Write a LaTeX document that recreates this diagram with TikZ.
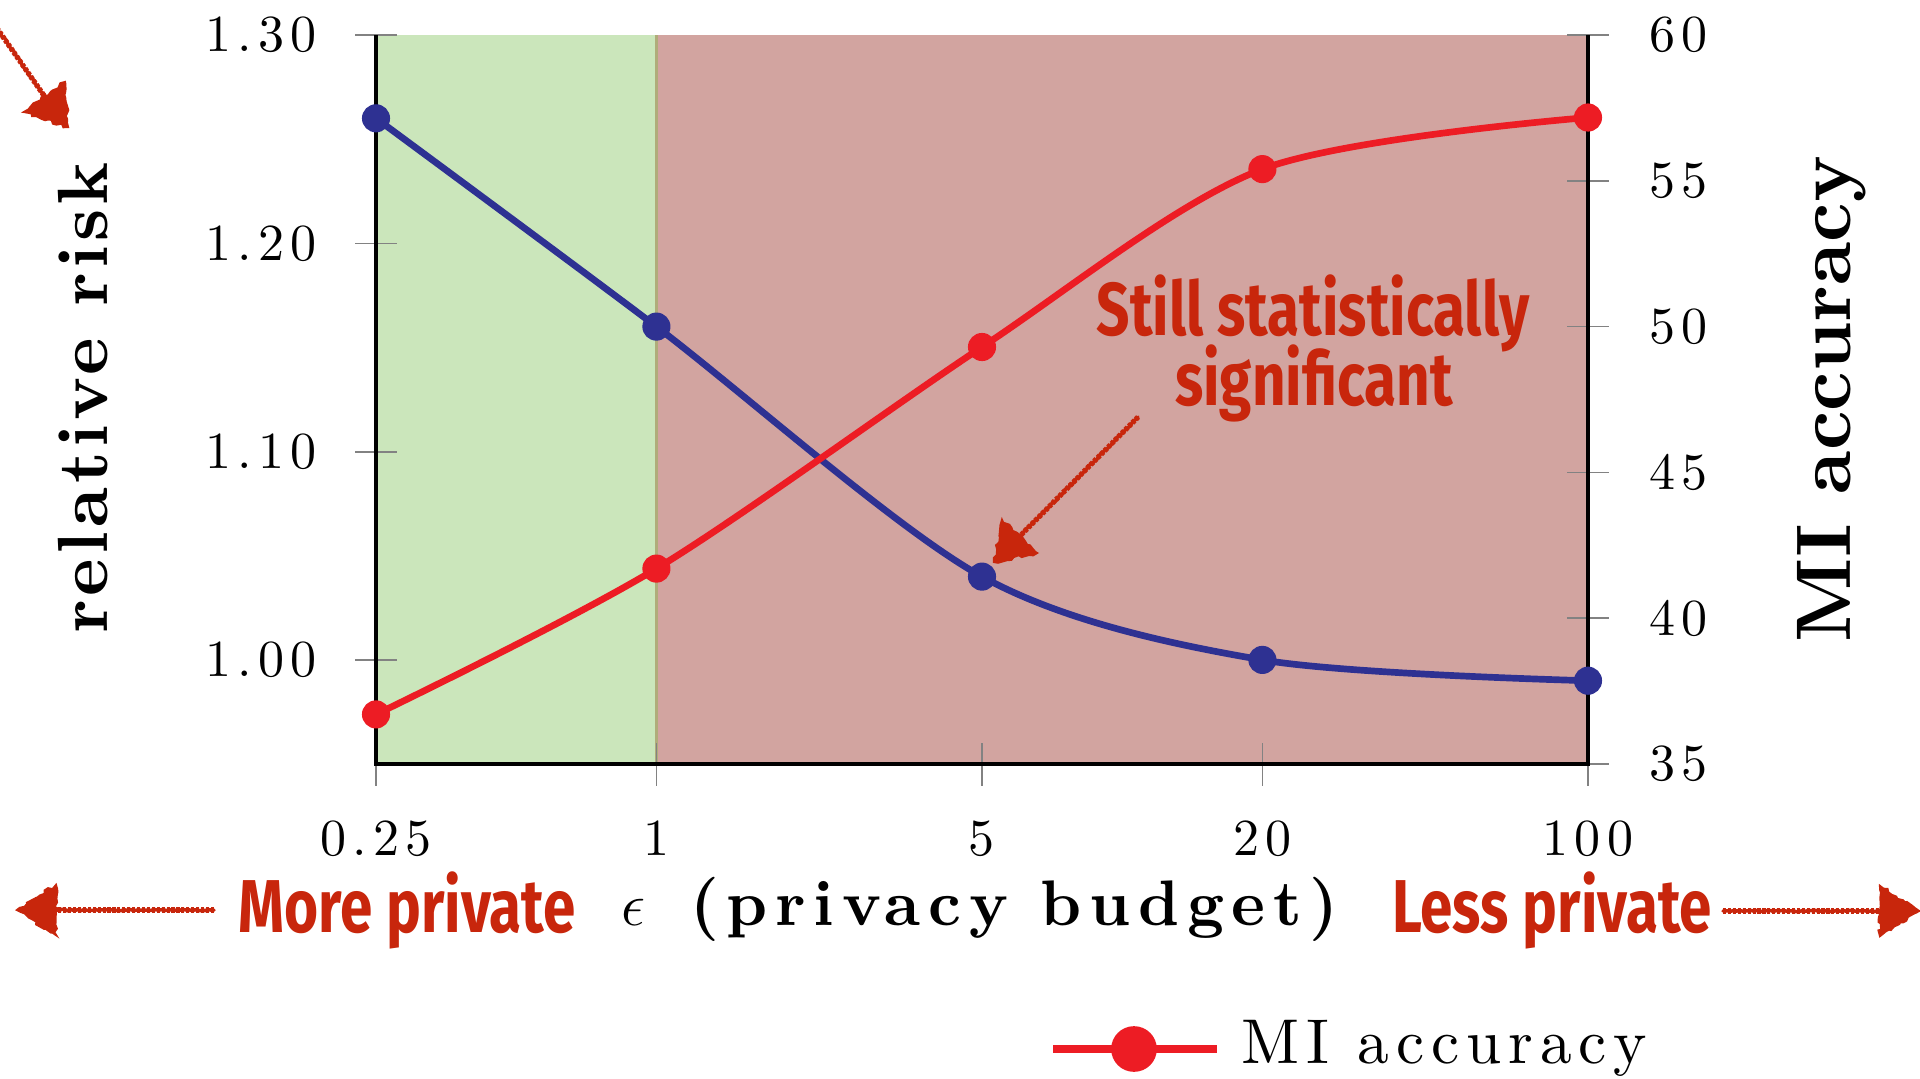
\documentclass[tikz,border=0pt]{standalone}
\usepackage{fontspec}
\setmainfont{lmroman10-regular}[Extension=.otf,
  BoldFont=lmroman10-bold,ItalicFont=lmroman10-italic,BoldItalicFont=lmroman10-bolditalic]
\usetikzlibrary{decorations.pathmorphing}
\newfontfamily\handfont[FakeStretch=0.78]{Fira Sans}

\definecolor{riskblue}{RGB}{46,49,146}
\definecolor{mired}{RGB}{237,28,36}
\definecolor{privgreen}{RGB}{203,230,187}
\definecolor{leakpink}{RGB}{210,164,160}
\definecolor{seamolive}{RGB}{176,172,122}
\definecolor{inkred}{RGB}{200,38,12}
\definecolor{tickgray}{RGB}{130,130,130}

\begin{document}
\begin{tikzpicture}[x=0.01cm,y=-0.01cm,
  tickmark/.style={draw=tickgray,line width=0.45pt},
  axisline/.style={draw=black,line width=0.9pt,line join=miter},
  ticklabel/.style={inner sep=0pt,font=\fontsize{14.8}{17}\selectfont\addfontfeatures{LetterSpace=12}},
  riskcurve/.style={draw=riskblue,line width=1.9pt},
  micurve/.style={draw=mired,line width=1.9pt},
  dotmark/.style={circle,inner sep=0pt,minimum size=8pt,draw=none},
  handtext/.style={inner sep=0pt,text=inkred,font=\handfont\fontsize{21.3}{25}\selectfont\bfseries},
  sketchline/.style={draw=inkred,line width=1.0pt,line cap=round,decorate,
    decoration={random steps,segment length=0.8pt,amplitude=0.18pt}},
  sketchgrain/.style={draw=inkred,line width=1.5pt,dash pattern=on 0.9pt off 0.5pt},
  sketchhead/.style={fill=inkred,draw=inkred,line width=0.6pt,decorate,
    decoration={random steps,segment length=1pt,amplitude=0.5pt}}
]
\pgfmathsetseed{7}
\useasboundingbox (0,0) rectangle (1920,1078);

% shaded privacy regions
\fill[privgreen] (376,35) rectangle (656.4,764);
\fill[leakpink] (656.4,35) rectangle (1588,764);
\draw[seamolive,line width=0.7pt] (656.4,35) -- (656.4,764);

% ticks (centred on the axes)
\foreach \yy in {660,451.7,243.4,35}
  \draw[tickmark] (355,\yy) -- (397,\yy);
\foreach \yy in {764,618.2,472.4,326.6,180.8,35}
  \draw[tickmark] (1567,\yy) -- (1609,\yy);
\foreach \xx in {376,656.4,982,1262.4,1588}
  \draw[tickmark] (\xx,743) -- (\xx,786);

% axis lines (no top border)
\draw[axisline] (376,35) -- (376,764) -- (1588,764) -- (1588,35);

% tick labels
\node[ticklabel,anchor=east] (l130) at (317,35) {1.30};
\node[ticklabel,anchor=east] (l120) at (317,243.4) {1.20};
\node[ticklabel,anchor=east] (l110) at (317,451.7) {1.10};
\node[ticklabel,anchor=east] (l100) at (317,660) {1.00};
\node[ticklabel,anchor=west] (r60) at (1649,35) {60};
\node[ticklabel,anchor=west] (r55) at (1649,180.8) {55};
\node[ticklabel,anchor=west] (r50) at (1649,326.6) {50};
\node[ticklabel,anchor=west] (r45) at (1649,472.4) {45};
\node[ticklabel,anchor=west] (r40) at (1649,618.2) {40};
\node[ticklabel,anchor=west] (r35) at (1649,764) {35};
\node[ticklabel,anchor=base] (x1) at (376,855) {0.25};
\node[ticklabel,anchor=base] (x2) at (656.4,855) {1};
\node[ticklabel,anchor=base] (x3) at (982,855) {5};
\node[ticklabel,anchor=base] (x4) at (1262.4,855) {20};
\node[ticklabel,anchor=base] (x5) at (1588,855) {100};

% axis titles
\node[inner sep=0pt,rotate=90,anchor=base,font=\fontsize{20.2}{24}\selectfont\bfseries\addfontfeatures{LetterSpace=6}] (ylab) at (107,398) {relative risk};
\node[inner sep=0pt,rotate=90,anchor=base,font=\fontsize{22}{26}\selectfont\bfseries] (y2lab) at (1850,399) {MI accuracy};
\node[inner sep=0pt,anchor=base,font=\fontsize{18.3}{21}\selectfont] (xlab) at (980,925)
  {$\epsilon$\hspace{0.7em}{\bfseries\addfontfeatures{LetterSpace=12}(privacy budget)}};

% data points
\coordinate (b1) at (376,118.3);
\coordinate (b2) at (656.4,326.6);
\coordinate (b3) at (982,576.6);
\coordinate (b4) at (1262.4,659.9);
\coordinate (b5) at (1588,680.7);
\coordinate (m1) at (376,714.4);
\coordinate (m2) at (656.4,568.6);
\coordinate (m3) at (982,347.0);
\coordinate (m4) at (1262.4,169.1);
\coordinate (m5) at (1588,117.5);

\draw[riskcurve] plot[smooth] coordinates {(b1) (b2) (b3) (b4) (b5)};
\draw[micurve] plot[smooth] coordinates {(m1) (m2) (m3) (m4) (m5)};
\foreach \p in {b1,b2,b3,b4,b5}
  \node[dotmark,fill=riskblue] (dot-\p) at (\p) {};
\foreach \p in {m1,m2,m3,m4,m5}
  \node[dotmark,fill=mired] (dot-\p) at (\p) {};

% hand-written annotations
\node[handtext,anchor=base] (still1) at (1313,335) {Still statistically};
\node[handtext,anchor=base] (still2) at (1314,405) {significant};
\node[handtext,anchor=base] (more) at (407,932) {More private};
\node[handtext,anchor=base] (less) at (1552,932) {Less private};

% sketchy arrows: grainy shaft plus rough triangular head
\coordinate (sigA) at (1138,417);
\coordinate (sigB) at (1019,537);
\coordinate (sigT) at (994,562);
\draw[sketchline] (sigA) -- (sigB);
\draw[sketchgrain] (sigA) -- (sigB);
\filldraw[sketchhead] (sigT) -- (1002,520) -- (1037,553) -- cycle;

\coordinate (lfA) at (214,910);
\coordinate (lfB) at (56,910);
\coordinate (lfT) at (17,910);
\draw[sketchline] (lfA) -- (lfB);
\draw[sketchgrain] (lfA) -- (lfB);
\filldraw[sketchhead] (lfT) -- (56,885) -- (56,935) -- cycle;

\coordinate (rtA) at (1723,911);
\coordinate (rtB) at (1880,911);
\coordinate (rtT) at (1919,911);
\draw[sketchline] (rtA) -- (rtB);
\draw[sketchgrain] (rtA) -- (rtB);
\filldraw[sketchhead] (rtT) -- (1880,886) -- (1880,936) -- cycle;

\coordinate (tlA) at (-6,24);
\coordinate (tlB) at (45,97);
\coordinate (tlT) at (68,127);
\draw[sketchline] (tlA) -- (tlB);
\draw[sketchgrain] (tlA) -- (tlB);
\filldraw[sketchhead] (tlT) -- (65,82) -- (24,112) -- cycle;

% legend entry
\coordinate (legA) at (1053,1049);
\coordinate (legB) at (1217,1049);
\draw[mired,line width=2.3pt] (legA) -- (legB);
\node[circle,inner sep=0pt,minimum size=13pt,fill=mired] (legdot) at (1134,1049) {};
\node[inner sep=0pt,anchor=base west,font=\fontsize{18}{21}\selectfont\addfontfeatures{LetterSpace=11}] (legtxt) at (1241,1063) {MI accuracy};
\end{tikzpicture}
\end{document}
